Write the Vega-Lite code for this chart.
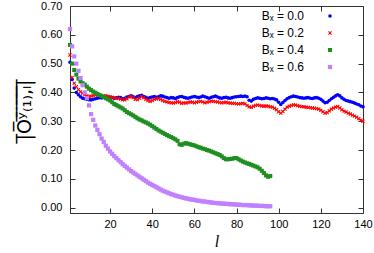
{
  "$schema": "https://vega.github.io/schema/vega-lite/v6.json",
  "autosize": {"type": "none"},
  "padding": {"left": 70, "top": 6, "right": 11, "bottom": 40},
  "width": 293,
  "height": 207,
  "background": "white",
  "config": {
    "font": "Liberation Sans",
    "view": {"stroke": "#333", "strokeWidth": 1},
    "axis": {"grid": false, "domainColor": "#333", "tickColor": "#333", "labelFont": "Liberation Sans", "labelFontSize": 11, "labelColor": "#000"}
  },
  "data": {"values": [
{"l":1,"B":"0.0","v":0.505},{"l":2,"B":"0.0","v":0.445},{"l":3,"B":"0.0","v":0.415},{"l":4,"B":"0.0","v":0.400},{"l":5,"B":"0.0","v":0.392},{"l":6,"B":"0.0","v":0.385},{"l":7,"B":"0.0","v":0.380},{"l":8,"B":"0.0","v":0.378},{"l":9,"B":"0.0","v":0.376},{"l":10,"B":"0.0","v":0.375},
{"l":11,"B":"0.0","v":0.374},{"l":12,"B":"0.0","v":0.376},{"l":13,"B":"0.0","v":0.378},{"l":14,"B":"0.0","v":0.380},{"l":15,"B":"0.0","v":0.382},{"l":16,"B":"0.0","v":0.381},{"l":17,"B":"0.0","v":0.383},{"l":18,"B":"0.0","v":0.382},{"l":19,"B":"0.0","v":0.384},{"l":20,"B":"0.0","v":0.383},
{"l":21,"B":"0.0","v":0.382},{"l":22,"B":"0.0","v":0.380},{"l":23,"B":"0.0","v":0.381},{"l":24,"B":"0.0","v":0.383},{"l":25,"B":"0.0","v":0.382},{"l":26,"B":"0.0","v":0.378},{"l":27,"B":"0.0","v":0.380},{"l":28,"B":"0.0","v":0.384},{"l":29,"B":"0.0","v":0.386},{"l":30,"B":"0.0","v":0.388},
{"l":31,"B":"0.0","v":0.385},{"l":32,"B":"0.0","v":0.382},{"l":33,"B":"0.0","v":0.386},{"l":34,"B":"0.0","v":0.388},{"l":35,"B":"0.0","v":0.390},{"l":36,"B":"0.0","v":0.386},{"l":37,"B":"0.0","v":0.383},{"l":38,"B":"0.0","v":0.380},{"l":39,"B":"0.0","v":0.382},{"l":40,"B":"0.0","v":0.384},
{"l":41,"B":"0.0","v":0.386},{"l":42,"B":"0.0","v":0.383},{"l":43,"B":"0.0","v":0.385},{"l":44,"B":"0.0","v":0.388},{"l":45,"B":"0.0","v":0.387},{"l":46,"B":"0.0","v":0.384},{"l":47,"B":"0.0","v":0.382},{"l":48,"B":"0.0","v":0.380},{"l":49,"B":"0.0","v":0.382},{"l":50,"B":"0.0","v":0.381},
{"l":51,"B":"0.0","v":0.379},{"l":52,"B":"0.0","v":0.382},{"l":53,"B":"0.0","v":0.385},{"l":54,"B":"0.0","v":0.386},{"l":55,"B":"0.0","v":0.383},{"l":56,"B":"0.0","v":0.381},{"l":57,"B":"0.0","v":0.380},{"l":58,"B":"0.0","v":0.382},{"l":59,"B":"0.0","v":0.384},{"l":60,"B":"0.0","v":0.386},
{"l":61,"B":"0.0","v":0.384},{"l":62,"B":"0.0","v":0.382},{"l":63,"B":"0.0","v":0.384},{"l":64,"B":"0.0","v":0.387},{"l":65,"B":"0.0","v":0.385},{"l":66,"B":"0.0","v":0.382},{"l":67,"B":"0.0","v":0.380},{"l":68,"B":"0.0","v":0.383},{"l":69,"B":"0.0","v":0.385},{"l":70,"B":"0.0","v":0.387},
{"l":71,"B":"0.0","v":0.384},{"l":72,"B":"0.0","v":0.381},{"l":73,"B":"0.0","v":0.380},{"l":74,"B":"0.0","v":0.382},{"l":75,"B":"0.0","v":0.383},{"l":76,"B":"0.0","v":0.381},{"l":77,"B":"0.0","v":0.380},{"l":78,"B":"0.0","v":0.382},{"l":79,"B":"0.0","v":0.384},{"l":80,"B":"0.0","v":0.385},
{"l":81,"B":"0.0","v":0.386},{"l":82,"B":"0.0","v":0.387},{"l":83,"B":"0.0","v":0.386},{"l":84,"B":"0.0","v":0.387},{"l":85,"B":"0.0","v":0.385},{"l":86,"B":"0.0","v":0.373},{"l":87,"B":"0.0","v":0.370},{"l":88,"B":"0.0","v":0.376},{"l":89,"B":"0.0","v":0.379},{"l":90,"B":"0.0","v":0.381},
{"l":91,"B":"0.0","v":0.380},{"l":92,"B":"0.0","v":0.378},{"l":93,"B":"0.0","v":0.379},{"l":94,"B":"0.0","v":0.381},{"l":95,"B":"0.0","v":0.380},{"l":96,"B":"0.0","v":0.378},{"l":97,"B":"0.0","v":0.379},{"l":98,"B":"0.0","v":0.377},{"l":99,"B":"0.0","v":0.374},{"l":100,"B":"0.0","v":0.366},
{"l":101,"B":"0.0","v":0.358},{"l":102,"B":"0.0","v":0.365},{"l":103,"B":"0.0","v":0.372},{"l":104,"B":"0.0","v":0.378},{"l":105,"B":"0.0","v":0.382},{"l":106,"B":"0.0","v":0.385},{"l":107,"B":"0.0","v":0.387},{"l":108,"B":"0.0","v":0.386},{"l":109,"B":"0.0","v":0.384},{"l":110,"B":"0.0","v":0.382},
{"l":111,"B":"0.0","v":0.381},{"l":112,"B":"0.0","v":0.380},{"l":113,"B":"0.0","v":0.381},{"l":114,"B":"0.0","v":0.382},{"l":115,"B":"0.0","v":0.380},{"l":116,"B":"0.0","v":0.379},{"l":117,"B":"0.0","v":0.381},{"l":118,"B":"0.0","v":0.382},{"l":119,"B":"0.0","v":0.380},{"l":120,"B":"0.0","v":0.376},
{"l":121,"B":"0.0","v":0.370},{"l":122,"B":"0.0","v":0.364},{"l":123,"B":"0.0","v":0.366},{"l":124,"B":"0.0","v":0.372},{"l":125,"B":"0.0","v":0.378},{"l":126,"B":"0.0","v":0.383},{"l":127,"B":"0.0","v":0.388},{"l":128,"B":"0.0","v":0.392},{"l":129,"B":"0.0","v":0.388},{"l":130,"B":"0.0","v":0.381},
{"l":131,"B":"0.0","v":0.376},{"l":132,"B":"0.0","v":0.372},{"l":133,"B":"0.0","v":0.370},{"l":134,"B":"0.0","v":0.368},{"l":135,"B":"0.0","v":0.366},{"l":136,"B":"0.0","v":0.363},{"l":137,"B":"0.0","v":0.360},{"l":138,"B":"0.0","v":0.357},{"l":139,"B":"0.0","v":0.353},{"l":140,"B":"0.0","v":0.350},
{"l":1,"B":"0.2","v":0.530},{"l":2,"B":"0.2","v":0.452},{"l":3,"B":"0.2","v":0.432},{"l":4,"B":"0.2","v":0.420},{"l":5,"B":"0.2","v":0.410},{"l":6,"B":"0.2","v":0.402},{"l":7,"B":"0.2","v":0.397},{"l":8,"B":"0.2","v":0.392},{"l":9,"B":"0.2","v":0.388},{"l":10,"B":"0.2","v":0.386},
{"l":11,"B":"0.2","v":0.387},{"l":12,"B":"0.2","v":0.389},{"l":13,"B":"0.2","v":0.391},{"l":14,"B":"0.2","v":0.392},{"l":15,"B":"0.2","v":0.390},{"l":16,"B":"0.2","v":0.388},{"l":17,"B":"0.2","v":0.387},{"l":18,"B":"0.2","v":0.389},{"l":19,"B":"0.2","v":0.386},{"l":20,"B":"0.2","v":0.385},
{"l":21,"B":"0.2","v":0.383},{"l":22,"B":"0.2","v":0.382},{"l":23,"B":"0.2","v":0.380},{"l":24,"B":"0.2","v":0.379},{"l":25,"B":"0.2","v":0.377},{"l":26,"B":"0.2","v":0.375},{"l":27,"B":"0.2","v":0.374},{"l":28,"B":"0.2","v":0.378},{"l":29,"B":"0.2","v":0.384},{"l":30,"B":"0.2","v":0.387},
{"l":31,"B":"0.2","v":0.382},{"l":32,"B":"0.2","v":0.376},{"l":33,"B":"0.2","v":0.375},{"l":34,"B":"0.2","v":0.380},{"l":35,"B":"0.2","v":0.386},{"l":36,"B":"0.2","v":0.382},{"l":37,"B":"0.2","v":0.376},{"l":38,"B":"0.2","v":0.372},{"l":39,"B":"0.2","v":0.369},{"l":40,"B":"0.2","v":0.372},
{"l":41,"B":"0.2","v":0.376},{"l":42,"B":"0.2","v":0.378},{"l":43,"B":"0.2","v":0.379},{"l":44,"B":"0.2","v":0.376},{"l":45,"B":"0.2","v":0.372},{"l":46,"B":"0.2","v":0.369},{"l":47,"B":"0.2","v":0.367},{"l":48,"B":"0.2","v":0.365},{"l":49,"B":"0.2","v":0.364},{"l":50,"B":"0.2","v":0.363},
{"l":51,"B":"0.2","v":0.365},{"l":52,"B":"0.2","v":0.368},{"l":53,"B":"0.2","v":0.366},{"l":54,"B":"0.2","v":0.362},{"l":55,"B":"0.2","v":0.364},{"l":56,"B":"0.2","v":0.363},{"l":57,"B":"0.2","v":0.365},{"l":58,"B":"0.2","v":0.367},{"l":59,"B":"0.2","v":0.366},{"l":60,"B":"0.2","v":0.364},
{"l":61,"B":"0.2","v":0.366},{"l":62,"B":"0.2","v":0.368},{"l":63,"B":"0.2","v":0.369},{"l":64,"B":"0.2","v":0.367},{"l":65,"B":"0.2","v":0.364},{"l":66,"B":"0.2","v":0.366},{"l":67,"B":"0.2","v":0.368},{"l":68,"B":"0.2","v":0.370},{"l":69,"B":"0.2","v":0.369},{"l":70,"B":"0.2","v":0.368},
{"l":71,"B":"0.2","v":0.367},{"l":72,"B":"0.2","v":0.365},{"l":73,"B":"0.2","v":0.364},{"l":74,"B":"0.2","v":0.365},{"l":75,"B":"0.2","v":0.366},{"l":76,"B":"0.2","v":0.364},{"l":77,"B":"0.2","v":0.363},{"l":78,"B":"0.2","v":0.362},{"l":79,"B":"0.2","v":0.362},{"l":80,"B":"0.2","v":0.361},
{"l":81,"B":"0.2","v":0.360},{"l":82,"B":"0.2","v":0.361},{"l":83,"B":"0.2","v":0.362},{"l":84,"B":"0.2","v":0.360},{"l":85,"B":"0.2","v":0.355},{"l":86,"B":"0.2","v":0.350},{"l":87,"B":"0.2","v":0.348},{"l":88,"B":"0.2","v":0.352},{"l":89,"B":"0.2","v":0.355},{"l":90,"B":"0.2","v":0.356},
{"l":91,"B":"0.2","v":0.355},{"l":92,"B":"0.2","v":0.353},{"l":93,"B":"0.2","v":0.352},{"l":94,"B":"0.2","v":0.353},{"l":95,"B":"0.2","v":0.352},{"l":96,"B":"0.2","v":0.350},{"l":97,"B":"0.2","v":0.349},{"l":98,"B":"0.2","v":0.345},{"l":99,"B":"0.2","v":0.340},{"l":100,"B":"0.2","v":0.333},
{"l":101,"B":"0.2","v":0.328},{"l":102,"B":"0.2","v":0.334},{"l":103,"B":"0.2","v":0.342},{"l":104,"B":"0.2","v":0.349},{"l":105,"B":"0.2","v":0.352},{"l":106,"B":"0.2","v":0.355},{"l":107,"B":"0.2","v":0.357},{"l":108,"B":"0.2","v":0.356},{"l":109,"B":"0.2","v":0.354},{"l":110,"B":"0.2","v":0.352},
{"l":111,"B":"0.2","v":0.351},{"l":112,"B":"0.2","v":0.350},{"l":113,"B":"0.2","v":0.349},{"l":114,"B":"0.2","v":0.348},{"l":115,"B":"0.2","v":0.347},{"l":116,"B":"0.2","v":0.346},{"l":117,"B":"0.2","v":0.345},{"l":118,"B":"0.2","v":0.344},{"l":119,"B":"0.2","v":0.342},{"l":120,"B":"0.2","v":0.338},
{"l":121,"B":"0.2","v":0.333},{"l":122,"B":"0.2","v":0.328},{"l":123,"B":"0.2","v":0.330},{"l":124,"B":"0.2","v":0.336},{"l":125,"B":"0.2","v":0.342},{"l":126,"B":"0.2","v":0.346},{"l":127,"B":"0.2","v":0.349},{"l":128,"B":"0.2","v":0.351},{"l":129,"B":"0.2","v":0.346},{"l":130,"B":"0.2","v":0.340},
{"l":131,"B":"0.2","v":0.335},{"l":132,"B":"0.2","v":0.332},{"l":133,"B":"0.2","v":0.328},{"l":134,"B":"0.2","v":0.325},{"l":135,"B":"0.2","v":0.321},{"l":136,"B":"0.2","v":0.318},{"l":137,"B":"0.2","v":0.314},{"l":138,"B":"0.2","v":0.309},{"l":139,"B":"0.2","v":0.304},{"l":140,"B":"0.2","v":0.300},
{"l":1,"B":"0.4","v":0.565},{"l":2,"B":"0.4","v":0.500},{"l":3,"B":"0.4","v":0.478},{"l":4,"B":"0.4","v":0.462},{"l":5,"B":"0.4","v":0.448},{"l":6,"B":"0.4","v":0.438},{"l":7,"B":"0.4","v":0.432},{"l":8,"B":"0.4","v":0.427},{"l":9,"B":"0.4","v":0.420},{"l":10,"B":"0.4","v":0.413},
{"l":11,"B":"0.4","v":0.408},{"l":12,"B":"0.4","v":0.403},{"l":13,"B":"0.4","v":0.399},{"l":14,"B":"0.4","v":0.395},{"l":15,"B":"0.4","v":0.391},{"l":16,"B":"0.4","v":0.388},{"l":17,"B":"0.4","v":0.384},{"l":18,"B":"0.4","v":0.380},{"l":19,"B":"0.4","v":0.376},{"l":20,"B":"0.4","v":0.372},
{"l":21,"B":"0.4","v":0.366},{"l":22,"B":"0.4","v":0.360},{"l":23,"B":"0.4","v":0.356},{"l":24,"B":"0.4","v":0.352},{"l":25,"B":"0.4","v":0.348},{"l":26,"B":"0.4","v":0.344},{"l":27,"B":"0.4","v":0.338},{"l":28,"B":"0.4","v":0.332},{"l":29,"B":"0.4","v":0.328},{"l":30,"B":"0.4","v":0.324},
{"l":31,"B":"0.4","v":0.320},{"l":32,"B":"0.4","v":0.315},{"l":33,"B":"0.4","v":0.310},{"l":34,"B":"0.4","v":0.306},{"l":35,"B":"0.4","v":0.303},{"l":36,"B":"0.4","v":0.299},{"l":37,"B":"0.4","v":0.296},{"l":38,"B":"0.4","v":0.292},{"l":39,"B":"0.4","v":0.288},{"l":40,"B":"0.4","v":0.283},
{"l":41,"B":"0.4","v":0.278},{"l":42,"B":"0.4","v":0.273},{"l":43,"B":"0.4","v":0.268},{"l":44,"B":"0.4","v":0.264},{"l":45,"B":"0.4","v":0.260},{"l":46,"B":"0.4","v":0.256},{"l":47,"B":"0.4","v":0.252},{"l":48,"B":"0.4","v":0.248},{"l":49,"B":"0.4","v":0.245},{"l":50,"B":"0.4","v":0.241},
{"l":51,"B":"0.4","v":0.237},{"l":52,"B":"0.4","v":0.232},{"l":53,"B":"0.4","v":0.220},{"l":54,"B":"0.4","v":0.218},{"l":55,"B":"0.4","v":0.222},{"l":56,"B":"0.4","v":0.224},{"l":57,"B":"0.4","v":0.222},{"l":58,"B":"0.4","v":0.220},{"l":59,"B":"0.4","v":0.218},{"l":60,"B":"0.4","v":0.216},
{"l":61,"B":"0.4","v":0.213},{"l":62,"B":"0.4","v":0.210},{"l":63,"B":"0.4","v":0.208},{"l":64,"B":"0.4","v":0.205},{"l":65,"B":"0.4","v":0.203},{"l":66,"B":"0.4","v":0.200},{"l":67,"B":"0.4","v":0.198},{"l":68,"B":"0.4","v":0.195},{"l":69,"B":"0.4","v":0.192},{"l":70,"B":"0.4","v":0.189},
{"l":71,"B":"0.4","v":0.186},{"l":72,"B":"0.4","v":0.183},{"l":73,"B":"0.4","v":0.178},{"l":74,"B":"0.4","v":0.172},{"l":75,"B":"0.4","v":0.168},{"l":76,"B":"0.4","v":0.168},{"l":77,"B":"0.4","v":0.169},{"l":78,"B":"0.4","v":0.170},{"l":79,"B":"0.4","v":0.172},{"l":80,"B":"0.4","v":0.172},
{"l":81,"B":"0.4","v":0.168},{"l":82,"B":"0.4","v":0.164},{"l":83,"B":"0.4","v":0.160},{"l":84,"B":"0.4","v":0.157},{"l":85,"B":"0.4","v":0.154},{"l":86,"B":"0.4","v":0.152},{"l":87,"B":"0.4","v":0.149},{"l":88,"B":"0.4","v":0.146},{"l":89,"B":"0.4","v":0.143},{"l":90,"B":"0.4","v":0.140},
{"l":91,"B":"0.4","v":0.135},{"l":92,"B":"0.4","v":0.128},{"l":93,"B":"0.4","v":0.120},{"l":94,"B":"0.4","v":0.112},{"l":95,"B":"0.4","v":0.107},{"l":96,"B":"0.4","v":0.110},
{"l":1,"B":"0.6","v":0.620},{"l":2,"B":"0.6","v":0.560},{"l":3,"B":"0.6","v":0.525},{"l":4,"B":"0.6","v":0.500},{"l":5,"B":"0.6","v":0.475},{"l":6,"B":"0.6","v":0.450},{"l":7,"B":"0.6","v":0.425},{"l":8,"B":"0.6","v":0.400},{"l":9,"B":"0.6","v":0.380},{"l":10,"B":"0.6","v":0.355},
{"l":11,"B":"0.6","v":0.325},{"l":12,"B":"0.6","v":0.305},{"l":13,"B":"0.6","v":0.285},{"l":14,"B":"0.6","v":0.270},{"l":15,"B":"0.6","v":0.255},{"l":16,"B":"0.6","v":0.240},{"l":17,"B":"0.6","v":0.228},{"l":18,"B":"0.6","v":0.215},{"l":19,"B":"0.6","v":0.205},{"l":20,"B":"0.6","v":0.195},
{"l":21,"B":"0.6","v":0.187},{"l":22,"B":"0.6","v":0.179},{"l":23,"B":"0.6","v":0.172},{"l":24,"B":"0.6","v":0.165},{"l":25,"B":"0.6","v":0.158},{"l":26,"B":"0.6","v":0.151},{"l":27,"B":"0.6","v":0.145},{"l":28,"B":"0.6","v":0.139},{"l":29,"B":"0.6","v":0.133},{"l":30,"B":"0.6","v":0.127},
{"l":31,"B":"0.6","v":0.122},{"l":32,"B":"0.6","v":0.117},{"l":33,"B":"0.6","v":0.112},{"l":34,"B":"0.6","v":0.107},{"l":35,"B":"0.6","v":0.102},{"l":36,"B":"0.6","v":0.097},{"l":37,"B":"0.6","v":0.092},{"l":38,"B":"0.6","v":0.087},{"l":39,"B":"0.6","v":0.083},{"l":40,"B":"0.6","v":0.079},
{"l":41,"B":"0.6","v":0.075},{"l":42,"B":"0.6","v":0.071},{"l":43,"B":"0.6","v":0.067},{"l":44,"B":"0.6","v":0.063},{"l":45,"B":"0.6","v":0.059},{"l":46,"B":"0.6","v":0.056},{"l":47,"B":"0.6","v":0.053},{"l":48,"B":"0.6","v":0.050},{"l":49,"B":"0.6","v":0.047},{"l":50,"B":"0.6","v":0.045},
{"l":51,"B":"0.6","v":0.042},{"l":52,"B":"0.6","v":0.040},{"l":53,"B":"0.6","v":0.038},{"l":54,"B":"0.6","v":0.036},{"l":55,"B":"0.6","v":0.034},{"l":56,"B":"0.6","v":0.032},{"l":57,"B":"0.6","v":0.031},{"l":58,"B":"0.6","v":0.029},{"l":59,"B":"0.6","v":0.028},{"l":60,"B":"0.6","v":0.027},
{"l":61,"B":"0.6","v":0.025},{"l":62,"B":"0.6","v":0.024},{"l":63,"B":"0.6","v":0.023},{"l":64,"B":"0.6","v":0.022},{"l":65,"B":"0.6","v":0.021},{"l":66,"B":"0.6","v":0.020},{"l":67,"B":"0.6","v":0.019},{"l":68,"B":"0.6","v":0.018},{"l":69,"B":"0.6","v":0.017},{"l":70,"B":"0.6","v":0.016},
{"l":71,"B":"0.6","v":0.016},{"l":72,"B":"0.6","v":0.015},{"l":73,"B":"0.6","v":0.014},{"l":74,"B":"0.6","v":0.014},{"l":75,"B":"0.6","v":0.013},{"l":76,"B":"0.6","v":0.013},{"l":77,"B":"0.6","v":0.012},{"l":78,"B":"0.6","v":0.012},{"l":79,"B":"0.6","v":0.011},{"l":80,"B":"0.6","v":0.011},
{"l":81,"B":"0.6","v":0.010},{"l":82,"B":"0.6","v":0.010},{"l":83,"B":"0.6","v":0.009},{"l":84,"B":"0.6","v":0.009},{"l":85,"B":"0.6","v":0.009},{"l":86,"B":"0.6","v":0.008},{"l":87,"B":"0.6","v":0.008},{"l":88,"B":"0.6","v":0.007},{"l":89,"B":"0.6","v":0.007},{"l":90,"B":"0.6","v":0.007},
{"l":91,"B":"0.6","v":0.006},{"l":92,"B":"0.6","v":0.006},{"l":93,"B":"0.6","v":0.006},{"l":94,"B":"0.6","v":0.005},{"l":95,"B":"0.6","v":0.005},{"l":96,"B":"0.6","v":0.005}
  ]},
  "resolve": {"axis": {"x": "independent", "y": "independent"}},
  "layer": [
    {
      "mark": {"type": "point", "filled": true, "opacity": 1},
      "encoding": {
        "x": {"field": "l", "type": "quantitative", "scale": {"domain": [1, 140], "nice": false, "zero": false},
              "axis": {"values": [20, 40, 60, 80, 100, 120, 140], "tickSize": -5, "labelPadding": 10, "title": "l", "titleFont": "Liberation Serif", "titleFontStyle": "italic", "titleFontWeight": "normal", "titleFontSize": 16, "titlePadding": 4, "labelFlush": false}},
        "y": {"field": "v", "type": "quantitative", "scale": {"domain": [-0.0185, 0.7], "nice": false, "zero": false},
              "axis": {"values": [0, 0.1, 0.2, 0.3, 0.4, 0.5, 0.6, 0.7], "format": ".2f", "tickSize": -5, "labelPadding": 13, "title": "|̅O̅ʸ̅₍̅₁̅₎̅,̅ₗ̅|̅", "titleFont": "DejaVu Sans", "titleFontWeight": "normal", "titleFontSize": 19, "titlePadding": 6, "labelFlush": false}},
        "color": {"field": "B", "type": "nominal", "scale": {"domain": ["0.0", "0.2", "0.4", "0.6"], "range": ["#0000ff", "#ff0000", "#1f8f1f", "#c080ff"]},
                  "legend": {"title": null, "orient": "none", "legendX": 252, "legendY": 2, "labelExpr": "'Bₓ = ' + datum.label", "labelFontSize": 12, "labelFont": "Liberation Sans", "labelAlign": "right", "labelOffset": -32, "rowPadding": 5, "padding": 2}},
        "shape": {"field": "B", "type": "nominal", "scale": {"domain": ["0.0", "0.2", "0.4", "0.6"], "range": ["circle", "M-1,-0.6L-0.6,-1L0,-0.4L0.6,-1L1,-0.6L0.4,0L1,0.6L0.6,1L0,0.4L-0.6,1L-1,0.6L-0.4,0Z", "square", "square"]}},
        "size": {"field": "B", "type": "ordinal", "scale": {"domain": ["0.0", "0.2", "0.4", "0.6"], "range": [13, 18, 10, 30]}}
      }
    },
    {
      "mark": {"type": "point", "opacity": 0},
      "encoding": {
        "x": {"field": "l", "type": "quantitative", "axis": {"orient": "top", "values": [20, 40, 60, 80, 100, 120, 140], "labels": false, "tickSize": -5, "title": null, "domain": false}},
        "y": {"field": "v", "type": "quantitative", "axis": {"orient": "right", "values": [0, 0.1, 0.2, 0.3, 0.4, 0.5, 0.6, 0.7], "labels": false, "tickSize": -5, "title": null, "domain": false}}
      }
    }
  ]
}
